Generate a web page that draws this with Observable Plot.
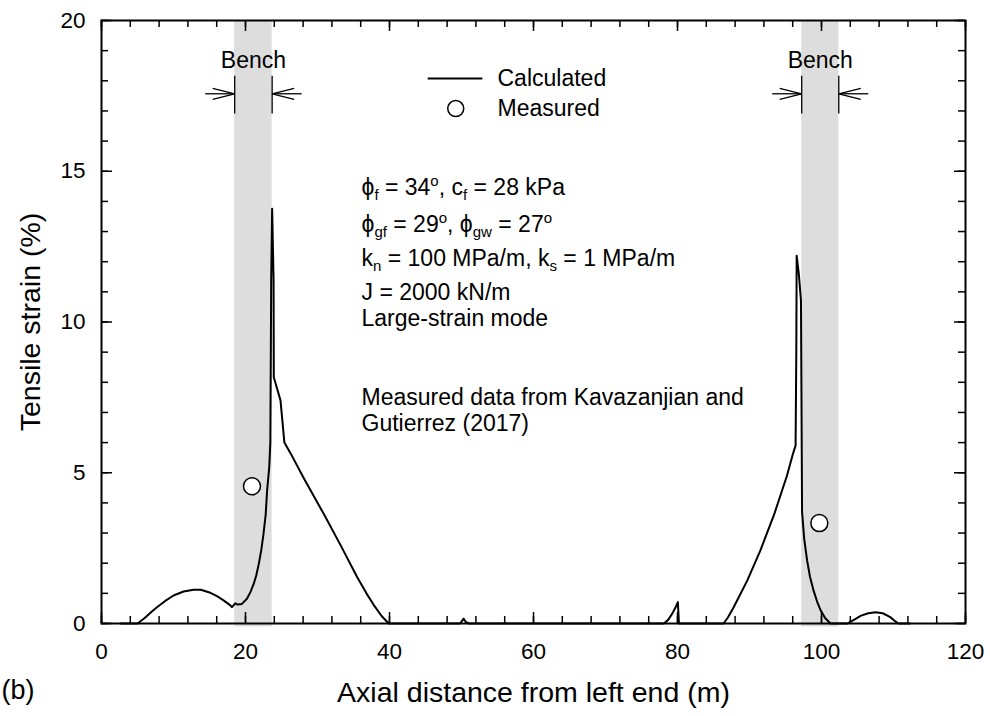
<!DOCTYPE html>
<html>
<head>
<meta charset="utf-8">
<script src="https://cdn.jsdelivr.net/npm/d3@7"></script>
<script src="https://cdn.jsdelivr.net/npm/@observablehq/plot@0.6"></script>
<style>
  html, body { margin: 0; padding: 0; background: #fff; }
  #chart { width: 990px; height: 716px; }
</style>
</head>
<body>
<div id="chart"></div>
<script>
// Calculated tensile strain along the liner: axial distance (m) and strain (%)
const calcX = [2.7, 5.0, 6.0, 7.0, 7.7, 8.8, 10.0, 11.4, 12.8, 13.8, 15.0, 16.1, 17.0, 17.9, 18.1, 18.4, 18.6, 18.9, 19.5, 20.2, 20.7, 21.15, 21.5, 21.85, 22.2, 22.5, 22.8, 23.0, 23.3, 23.45, 23.57, 23.7, 23.9, 23.93, 24.86, 25.4, 26.25, 28.1, 30.9, 33.2, 35.5, 36.8, 37.8, 38.9, 39.9, 49.8, 50.3, 50.6, 51.0, 78.1, 78.7, 79.25, 79.7, 80.05, 80.2, 86.4, 87.0, 87.8, 89.7, 91.5, 93.4, 95.2, 96.0, 96.4, 96.5, 96.55, 96.85, 97.15, 97.3, 97.6, 98.0, 98.4, 98.9, 99.4, 99.9, 100.5, 101.25, 103.6, 104.5, 105.5, 106.5, 107.5, 108.5, 109.5, 110.2, 110.7, 112.3];
const calcY = [0, 0, 0.18, 0.40, 0.54, 0.74, 0.93, 1.06, 1.12, 1.12, 1.03, 0.90, 0.76, 0.60, 0.54, 0.62, 0.67, 0.63, 0.65, 0.82, 1.05, 1.32, 1.60, 1.98, 2.45, 2.97, 3.60, 4.40, 5.20, 6.00, 11.4, 13.76, 11.4, 8.17, 7.40, 6.00, 5.65, 4.82, 3.62, 2.60, 1.54, 1.00, 0.62, 0.25, 0, 0, 0.16, 0.05, 0, 0, 0.12, 0.32, 0.52, 0.71, 0, 0, 0.20, 0.54, 1.43, 2.42, 3.60, 4.90, 5.60, 5.90, 9.0, 12.2, 11.6, 10.7, 3.70, 2.80, 2.09, 1.55, 1.09, 0.72, 0.43, 0.18, 0, 0, 0.12, 0.26, 0.34, 0.37, 0.34, 0.22, 0.08, 0, 0];

// Measured strains
const measX = [20.9, 99.7];
const measY = [4.55, 3.33];

// Bench extents along the axis (m)
const benchStart = [18.5, 97.25];
const benchEnd = [23.7, 102.4];
const benchLabel = ["Bench", "Bench"];

// Axis ticks
const xTickLabels = [0, 20, 40, 60, 80, 100, 120];
const yTickLabels = [0, 5, 10, 15, 20];
const xMinorTicks = d3.range(0, 121, 4);
const yMinorTicks = d3.range(0, 21, 1);

// Legend entries
const legendLabels = ["Calculated", "Measured"];

// Model parameters; _{..} is a subscript, ^{..} a superscript
const noteLines = [
  "\u03D5_{f} = 34^{o}, c_{f} = 28 kPa",
  "\u03D5_{gf} = 29^{o}, \u03D5_{gw} = 27^{o}",
  "k_{n} = 100 MPa/m, k_{s} = 1 MPa/m",
  "J = 2000 kN/m",
  "Large-strain mode",
  "Measured data from Kavazanjian and",
  "Gutierrez (2017)"
];

const xTitle = "Axial distance from left end (m)";
const yTitle = "Tensile strain (%)";
const panelTag = "(b)";

// ---------------------------------------------------------------------------
const W = 990, H = 716;
const M = {top: 20, right: 25, bottom: 93, left: 101};
const innerW = W - M.left - M.right;
const innerH = H - M.top - M.bottom;

const curve = calcX.map((x, i) => ({x, y: calcY[i]}));
const measured = measX.map((x, i) => ({x, y: measY[i]}));
const benches = benchStart.map((s, i) => ({start: s, end: benchEnd[i], mid: (s + benchEnd[i]) / 2, label: benchLabel[i]}));
const benchEdges = benches.flatMap(b => [b.start, b.end]);

// Dimension arrows that point at each bench edge from outside
const arrowLen = 4.1;  // m
const arrowY = 17.57;
const benchArrows = benches.flatMap(b => [
  {x1: b.start - arrowLen, x2: b.start},
  {x1: b.end + arrowLen, x2: b.end}
]);

// Open, narrow arrowhead drawn as two barbs
function barbMarker(color, context) {
  const doc = (context && context.document) || document;
  const ns = "http://www.w3.org/2000/svg";
  const m = doc.createElementNS(ns, "marker");
  m.setAttribute("viewBox", "-24 -8 26 16");
  m.setAttribute("markerWidth", 26);
  m.setAttribute("markerHeight", 16);
  m.setAttribute("refX", 0);
  m.setAttribute("refY", 0);
  m.setAttribute("markerUnits", "userSpaceOnUse");
  m.setAttribute("orient", "auto");
  const p = doc.createElementNS(ns, "path");
  p.setAttribute("d", "M-22,-5.5L0,0L-22,5.5");
  p.setAttribute("fill", "none");
  p.setAttribute("stroke", color);
  p.setAttribute("stroke-width", 1.3);
  m.appendChild(p);
  return m;
}

// Vertical placement (px from top of frame) of the parameter lines
const noteDy = [167, 204, 238, 272, 298, 377, 403];
const noteDx = 260;

const font = "'Liberation Sans', Arial, Helvetica, sans-serif";

const chart = Plot.plot({
  width: W,
  height: H,
  marginTop: M.top,
  marginRight: M.right,
  marginBottom: M.bottom,
  marginLeft: M.left,
  style: {fontFamily: font, fontSize: "22px", color: "black", background: "white", overflow: "visible"},
  x: {domain: [0, 120], label: null},
  y: {domain: [0, 20], label: null},
  marks: [
    // Bench zones
    Plot.rect(benches, {x1: "start", x2: "end", fill: "#dddddd", insetBottom: -3.5}),

    // Inward tick marks on all four sides
    Plot.tickX(xMinorTicks, {x: d => d, insetTop: innerH - 7, stroke: "black", strokeWidth: 1.5}),
    Plot.tickX(xTickLabels, {x: d => d, insetTop: innerH - 11, stroke: "black", strokeWidth: 1.5}),
    Plot.tickX(xMinorTicks, {x: d => d, insetBottom: innerH - 7, stroke: "black", strokeWidth: 1.5}),
    Plot.tickX(xTickLabels, {x: d => d, insetBottom: innerH - 11, stroke: "black", strokeWidth: 1.5}),
    Plot.tickY(yMinorTicks, {y: d => d, insetRight: innerW - 7, stroke: "black", strokeWidth: 1.5}),
    Plot.tickY(yTickLabels, {y: d => d, insetRight: innerW - 11, stroke: "black", strokeWidth: 1.5}),
    Plot.tickY(yMinorTicks, {y: d => d, insetLeft: innerW - 7, stroke: "black", strokeWidth: 1.5}),
    Plot.tickY(yTickLabels, {y: d => d, insetLeft: innerW - 11, stroke: "black", strokeWidth: 1.5}),

    Plot.frame({stroke: "black", strokeWidth: 2}),

    // Tick labels
    Plot.axisX({ticks: xTickLabels, tickSize: 0, tickPadding: 20, fontSize: 22.5, label: null}),
    Plot.axisY({ticks: yTickLabels, tickSize: 0, tickPadding: 16, fontSize: 22.5, label: null}),

    // Calculated strain
    Plot.line(curve, {x: "x", y: "y", stroke: "black", strokeWidth: 2}),

    // Measured strain
    Plot.dot(measured, {x: "x", y: "y", r: 8.5, fill: "white", stroke: "black", strokeWidth: 1.5}),

    // Bench labels and dimension arrows
    Plot.text(benches, {x: "mid", frameAnchor: "top", dy: 40, text: "label", lineAnchor: "middle", fontSize: 23}),
    Plot.ruleX(benchEdges, {x: d => d, y1: 16.9, y2: 18.15, stroke: "black", strokeWidth: 1.3}),
    Plot.link(benchArrows, {x1: "x1", x2: "x2", y1: arrowY, y2: arrowY, stroke: "black", strokeWidth: 1.3, markerEnd: barbMarker}),

    // Legend
    Plot.link([legendLabels[0]], {x1: 45.3, x2: 52.9, y1: 18.08, y2: 18.08, stroke: "black", strokeWidth: 2}),
    Plot.dot([legendLabels[1]], {x: 49.2, y: 17.08, r: 8, fill: "white", stroke: "black", strokeWidth: 1.5}),
    Plot.text([legendLabels[0]], {x: 55.0, y: 18.08, text: d => d, textAnchor: "start", fontSize: 23}),
    Plot.text([legendLabels[1]], {x: 55.0, y: 17.08, text: d => d, textAnchor: "start", fontSize: 23}),

    // Model parameters and data source
    ...noteLines.map((line, i) =>
      Plot.text([line], {frameAnchor: "top-left", dx: noteDx, dy: noteDy[i], text: d => d, textAnchor: "start", lineAnchor: "middle", fontSize: 23})
    ),

    // Axis titles and panel tag
    Plot.text([xTitle], {frameAnchor: "bottom", dy: 69.5, text: d => d, textAnchor: "middle", lineAnchor: "middle", fontSize: 28.5}),
    Plot.text([yTitle], {frameAnchor: "left", dx: -71, rotate: -90, text: d => d, textAnchor: "middle", lineAnchor: "middle", fontSize: 28.5}),
    Plot.text([panelTag], {frameAnchor: "bottom-left", dx: -100, dy: 67, text: d => d, textAnchor: "start", lineAnchor: "middle", fontSize: 27})
  ]
});

// Turn _{..} and ^{..} markup into subscript / superscript tspans
function applyScripts(svg) {
  const ns = "http://www.w3.org/2000/svg";
  svg.querySelectorAll("text").forEach(t => {
    const s = t.textContent;
    if (!/[_^]\{/.test(s)) return;
    while (t.firstChild) t.removeChild(t.firstChild);
    const re = /([_^])\{([^}]*)\}/g;
    let last = 0, shift = 0, m;
    const add = (str, kind) => {
      const ts = document.createElementNS(ns, "tspan");
      const target = kind === "_" ? 5 : kind === "^" ? -9 : 0;
      if (target !== shift) ts.setAttribute("dy", target - shift);
      shift = target;
      if (kind) ts.setAttribute("font-size", 15);
      ts.textContent = str;
      t.appendChild(ts);
    };
    while ((m = re.exec(s))) {
      if (m.index > last) add(s.slice(last, m.index), null);
      add(m[2], m[1]);
      last = re.lastIndex;
    }
    if (last < s.length) add(s.slice(last), null);
  });
}
applyScripts(chart);

document.getElementById("chart").appendChild(chart);
</script>
</body>
</html>
